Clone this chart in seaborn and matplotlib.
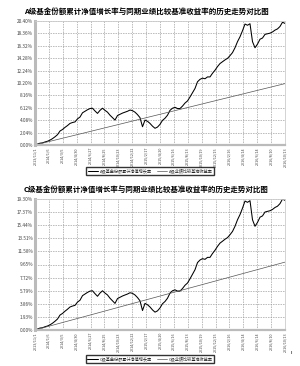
import numpy as np
import pandas as pd
import matplotlib
matplotlib.use("Agg")
import matplotlib.pyplot as plt
import seaborn as sns

sns.set_theme(style="white")
plt.rcParams['font.family'] = ['Noto Sans CJK SC', 'DejaVu Sans']

# ---------------- data ----------------
a_fund = [0.00, 0.15, 0.30, 0.35, 0.50, 0.62, 0.80, 1.05, 1.35, 1.70,
          2.30, 2.55, 2.90, 3.20, 3.55, 3.70, 3.80, 4.30, 4.60, 5.30,
          5.55, 5.80, 6.00, 6.05, 5.60, 5.20, 5.70, 6.05, 5.70, 5.40,
          4.90, 4.50, 4.10, 4.85, 5.05, 5.25, 5.40, 5.55, 5.75, 5.65,
          5.40, 5.00, 4.50, 3.00, 4.10, 3.90, 3.55, 3.10, 2.75, 2.95,
          3.40, 4.05, 4.40, 4.90, 5.70, 6.05, 6.20, 6.00, 6.00, 6.40,
          6.90, 7.25, 7.90, 8.60, 9.30, 10.40, 10.80, 11.00, 10.90, 11.20,
          11.20, 11.80, 12.30, 12.90, 13.40, 13.70, 14.00, 14.25, 14.70, 15.20,
          16.00, 17.00, 17.80, 18.80, 19.90, 19.70, 19.95, 17.00, 16.00, 16.60,
          17.40, 17.60, 18.20, 18.30, 18.40, 18.60, 18.90, 19.10, 19.50, 20.20,
          20.00]
c_fund = [0.00, 0.14, 0.29, 0.33, 0.48, 0.59, 0.76, 1.00, 1.29, 1.62,
          2.20, 2.44, 2.77, 3.06, 3.39, 3.53, 3.63, 4.11, 4.39, 5.06,
          5.30, 5.54, 5.73, 5.78, 5.35, 4.97, 5.44, 5.78, 5.44, 5.16,
          4.68, 4.30, 3.92, 4.63, 4.82, 5.01, 5.16, 5.30, 5.49, 5.40,
          5.16, 4.78, 4.30, 2.87, 3.92, 3.72, 3.39, 2.96, 2.63, 2.82,
          3.25, 3.87, 4.20, 4.68, 5.44, 5.78, 5.92, 5.73, 5.73, 6.11,
          6.59, 6.92, 7.54, 8.21, 8.88, 9.93, 10.31, 10.51, 10.41, 10.70,
          10.70, 11.27, 11.75, 12.32, 12.80, 13.08, 13.37, 13.61, 14.04, 14.52,
          15.28, 16.24, 17.00, 17.95, 19.00, 18.81, 19.05, 16.24, 15.28, 15.85,
          16.62, 16.81, 17.38, 17.48, 17.57, 17.76, 18.05, 18.24, 18.62, 19.29,
          19.10]
a_bench_start, a_bench_end = 0.00, 10.10
c_bench_start, c_bench_end = 0.00, 10.00

x_labels = ["2013/11/1", "2014/1/6", "2014/3/5", "2014/4/30", "2014/6/27",
            "2014/8/25", "2014/10/23", "2014/12/22", "2015/2/17", "2015/4/20",
            "2015/6/16", "2015/8/13", "2015/10/19", "2015/12/15", "2016/2/16",
            "2016/4/14", "2016/6/14", "2016/8/10", "2016/10/13"]
a_yticks = [0.00, 2.04, 4.08, 6.12, 8.16, 10.20, 12.24, 14.28, 16.32, 18.36, 20.40]
c_yticks = [0.00, 1.93, 3.86, 5.79, 7.72, 9.65, 11.58, 13.51, 15.44, 17.37, 19.30]

titles = ["A级基金份额累计净值增长率与同期业绩比较基准收益率的历史走势对比图",
          "C级基金份额累计净值增长率与同期业绩比较基准收益率的历史走势对比图"]
legend_labels = [("A级基金份额累计净值增长率", "A级业绩比较基准收益率"),
                 ("C级基金份额累计净值增长率", "C级业绩比较基准收益率")]

# ---------------- figure ----------------
W, H = 300, 366
fig = plt.figure(figsize=(W / 100, H / 100), dpi=100)


def fx(px):
    return px / W


def fy(py):
    return 1 - py / H


def draw(ax_box, fund, b0, b1, yticks, title, leg, title_y, leg_y):
    left, top, right, bottom = ax_box
    ax = fig.add_axes([fx(left), fy(bottom), fx(right) - fx(left), fy(top) - fy(bottom)])
    n = len(fund)
    idx = np.arange(n)
    df = pd.DataFrame({"t": idx, "fund": fund})
    dfb = pd.DataFrame({"t": [0, n - 1], "bench": [b0, b1]})
    sns.lineplot(data=df, x="t", y="fund", ax=ax, color="black", lw=0.75, label=leg[0])
    sns.lineplot(data=dfb, x="t", y="bench", ax=ax, color="#555555", lw=0.5, label=leg[1])
    ax.set_xlim(0, n - 1)
    ax.set_ylim(yticks[0], yticks[-1])
    ax.set_yticks(yticks)
    ax.set_yticklabels([f"{v:.2f}%" for v in yticks], fontsize=3.4, color="#444444")
    xt = np.linspace(0, n - 1, len(x_labels))
    ax.set_xticks(xt)
    ax.set_xticklabels(x_labels, rotation=90, fontsize=2.7, color="#444444")
    ax.tick_params(axis="both", length=0, pad=1.5)
    ax.set_xlabel("")
    ax.set_ylabel("")
    ax.grid(True, color="#999999", lw=0.45, ls=(0, (2.5, 1.5)))
    for s in ["top", "right"]:
        ax.spines[s].set_color("#cccccc")
        ax.spines[s].set_linewidth(0.6)
    ax.spines["left"].set_color("#bbbbbb")
    ax.spines["left"].set_linewidth(2.2)
    ax.spines["bottom"].set_color("#bbbbbb")
    ax.spines["bottom"].set_linewidth(1.6)
    ax.legend_.remove()
    h, l = ax.get_legend_handles_labels()
    fig.legend(h, l, loc="center", bbox_to_anchor=(fx(150), fy(leg_y)), ncol=2,
               fontsize=3.0, frameon=True, fancybox=False, edgecolor="black",
               handlelength=2.5, columnspacing=1.2, borderpad=0.3, handletextpad=0.4)
    fig.text(fx(146), fy(title_y), title, ha="center", va="center",
             fontsize=5.4, fontweight="bold", color="black")
    return ax


draw((35, 21, 285, 145), a_fund, a_bench_start, a_bench_end, a_yticks,
     titles[0], legend_labels[0], 11, 171)
draw((35, 199, 285, 330), c_fund, c_bench_start, c_bench_end, c_yticks,
     titles[1], legend_labels[1], 189, 359)

fig.text(fx(291), fy(352), "ı", fontsize=4, ha="center", va="center", color="black")

fig.savefig("out.png", dpi=100, facecolor="white")
